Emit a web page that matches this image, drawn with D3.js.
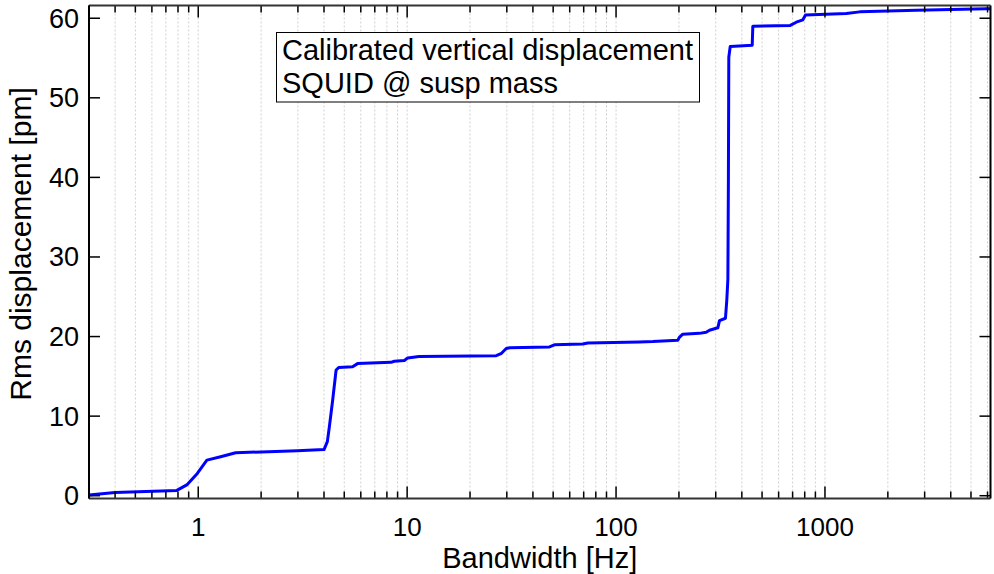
<!DOCTYPE html>
<html><head><meta charset="utf-8">
<script src="https://cdn.jsdelivr.net/npm/d3@7"></script>
<style>
body{margin:0;background:#fff;}
text{font-family:"Liberation Sans",Arial,sans-serif;fill:#000;}
</style></head>
<body><svg id="chart" width="994" height="574"></svg>
<script>
const freqHz = [0.3,0.4,0.79,0.886,0.99,1.10,1.28,1.51,2.98,4.0,4.15,4.24,4.40,4.57,4.70,5.48,5.79,8.37,8.68,9.70,10.05,11.4,26.7,28.3,29.8,31.0,48,50.7,69.3,73.2,129.5,150,197.5,201,208.6,250.6,270,280,307,312.7,334,339,343,345,346.5,352,448.5,451.5,682,729,784,807,1265,1466,2737,5920,6200];
const rmsPm = [0.1,0.4,0.67,1.4,2.8,4.47,4.9,5.4,5.64,5.8,6.8,8.6,12.0,15.8,16.1,16.2,16.6,16.76,16.9,17.0,17.3,17.5,17.6,17.9,18.5,18.6,18.7,18.96,19.07,19.2,19.33,19.38,19.55,19.9,20.3,20.4,20.55,20.8,21.1,22.0,22.3,24.6,27.2,40,55.1,56.45,56.6,59.0,59.1,59.5,59.8,60.4,60.6,60.8,61.0,61.2,61.2];
const xMajorTicks = [1,10,100,1000];
const yTicks = [0,10,20,30,40,50,60];
const legendLines = ["Calibrated vertical displacement","SQUID @ susp mass"];
const xLabel = "Bandwidth [Hz]";
const yLabel = "Rms displacement [pm]";

const svg = d3.select("#chart");
const L=89, R=990.5, T=5.5, B=498.5;
const x = d3.scaleLog().domain([0.3,6200]).range([L,R]);
const y = d3.scaleLinear().domain([-0.35,61.6]).range([B,T]);

const allX = [];
for (let d=-1; d<=3; d++) for (let m=1; m<=9; m++){ const v=m*Math.pow(10,d); if (v>=0.3 && v<=6200) allX.push(v); }

svg.append("g").selectAll("line").data(allX).join("line")
  .attr("x1",d=>x(d)).attr("x2",d=>x(d)).attr("y1",T).attr("y2",B)
  .attr("stroke","#d0d0d0").attr("stroke-width",1).attr("stroke-dasharray","2,2");

svg.append("path").datum(freqHz.map((f,i)=>[f,rmsPm[i]]))
  .attr("d", d3.line().x(d=>x(d[0])).y(d=>y(d[1])))
  .attr("fill","none").attr("stroke","#0000ff").attr("stroke-width",3).attr("stroke-linejoin","round");

const isMajor = v => xMajorTicks.some(m=>Math.abs(m-v)<1e-9);
const tg = svg.append("g").attr("stroke","#000").attr("stroke-width",1.5);
allX.forEach(v=>{
  const len = isMajor(v)?12:7;
  tg.append("line").attr("x1",x(v)).attr("x2",x(v)).attr("y1",B).attr("y2",B-len);
  tg.append("line").attr("x1",x(v)).attr("x2",x(v)).attr("y1",T).attr("y2",T+len);
});
yTicks.forEach(v=>{
  tg.append("line").attr("x1",L).attr("x2",L+11).attr("y1",y(v)).attr("y2",y(v));
  tg.append("line").attr("x1",R).attr("x2",R-11).attr("y1",y(v)).attr("y2",y(v));
});

svg.append("line").attr("x1",L).attr("x2",R).attr("y1",T).attr("y2",T).attr("stroke","#333").attr("stroke-width",2);
svg.append("line").attr("x1",L).attr("x2",R).attr("y1",B).attr("y2",B).attr("stroke","#333").attr("stroke-width",2);
svg.append("line").attr("x1",L).attr("x2",L).attr("y1",T).attr("y2",B).attr("stroke","#000").attr("stroke-width",2);
svg.append("line").attr("x1",R).attr("x2",R).attr("y1",T).attr("y2",B).attr("stroke","#000").attr("stroke-width",2);

svg.append("g").selectAll("text").data(xMajorTicks).join("text")
  .attr("x",d=>x(d)).attr("y",536).attr("text-anchor","middle").attr("font-size",26).text(d=>d);
svg.append("g").selectAll("text").data(yTicks).join("text")
  .attr("x",79).attr("y",d=>y(d)+9.5).attr("text-anchor","end").attr("font-size",27).text(d=>d);

svg.append("text").attr("x",(L+R)/2).attr("y",568).attr("text-anchor","middle").attr("font-size",29).text(xLabel);
svg.append("text").attr("transform","translate(31,244) rotate(-90)").attr("text-anchor","middle").attr("font-size",30).text(yLabel);

svg.append("rect").attr("x",276.5).attr("y",32.5).attr("width",423).attr("height",69.5)
  .attr("fill","#fff").attr("stroke","#000").attr("stroke-width",1);
legendLines.forEach((t,i)=>{
  svg.append("text").attr("x",282).attr("y",60+i*33).attr("font-size",29).text(t);
});
</script></body></html>
